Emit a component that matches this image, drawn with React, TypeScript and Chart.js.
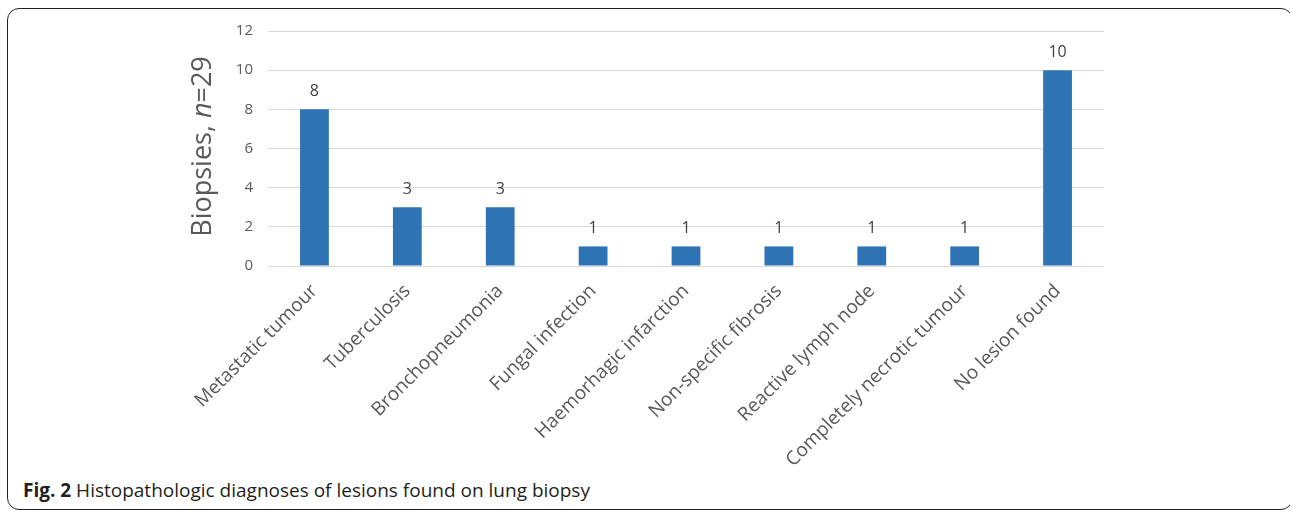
import React, { useEffect, useRef } from "react";
import { Chart, registerables } from "chart.js";

Chart.register(...registerables);

const categories = [
  "Metastatic tumour",
  "Tuberculosis",
  "Bronchopneumonia",
  "Fungal infection",
  "Haemorhagic infarction",
  "Non-specific fibrosis",
  "Reactive lymph node",
  "Completely necrotic tumour",
  "No lesion found",
];
const biopsies = [8, 3, 3, 1, 1, 1, 1, 1, 10];
const yMin = 0;
const yMax = 12;
const yStep = 2;

const FONT = "'Open Sans', 'Noto Sans', sans-serif";

const valueLabels = {
  id: "valueLabels",
  afterDatasetsDraw(chart: any) {
    const ctx = chart.ctx;
    const meta = chart.getDatasetMeta(0);
    ctx.save();
    ctx.font = `16px ${FONT}`;
    ctx.fillStyle = "#404040";
    ctx.textAlign = "center";
    ctx.textBaseline = "alphabetic";
    meta.data.forEach((bar: any, i: number) => {
      ctx.fillText(String(chart.data.datasets[0].data[i]), bar.x, bar.y - 13);
    });
    ctx.restore();
  },
};

const yTitle = {
  id: "yTitle",
  afterDraw(chart: any) {
    const ctx = chart.ctx;
    const area = chart.chartArea;
    const parts = [
      { t: "Biopsies, ", italic: false },
      { t: "n", italic: true },
      { t: "=29", italic: false },
    ];
    const size = 27;
    ctx.save();
    let total = 0;
    const widths = parts.map((p) => {
      ctx.font = `${p.italic ? "italic " : ""}${size}px ${FONT}`;
      const w = ctx.measureText(p.t).width;
      total += w;
      return w;
    });
    ctx.translate(211, (area.top + area.bottom) / 2 - 2);
    ctx.rotate(-Math.PI / 2);
    ctx.fillStyle = "#595959";
    ctx.textBaseline = "alphabetic";
    ctx.textAlign = "left";
    let x = -total / 2;
    parts.forEach((p, i) => {
      ctx.font = `${p.italic ? "italic " : ""}${size}px ${FONT}`;
      ctx.fillText(p.t, x, 0);
      x += widths[i];
    });
    ctx.restore();
  },
};

export default function App() {
  const ref = useRef<HTMLCanvasElement>(null);

  useEffect(() => {
    if (!ref.current) return;
    const chart = new Chart(ref.current, {
      type: "bar",
      data: {
        labels: categories,
        datasets: [
          {
            data: biopsies,
            backgroundColor: "#2e74b5",
            categoryPercentage: 1,
            barPercentage: 0.31,
          },
        ],
      },
      options: {
        animation: false,
        responsive: false,
        layout: { padding: { left: 0, top: 31, right: 186, bottom: 0 } },
        plugins: { legend: { display: false }, tooltip: { enabled: false } },
        scales: {
          x: {
            grid: { display: false },
            border: { display: false },
            ticks: {
              autoSkip: false,
              minRotation: 45,
              maxRotation: 45,
              padding: 6,
              color: "#595959",
              font: { family: FONT, size: 19 },
            },
            afterFit(s: any) {
              s.height = 204;
            },
          },
          y: {
            min: yMin,
            max: yMax,
            grid: { color: "#d9d9d9", lineWidth: 1, drawTicks: false },
            border: { display: false },
            ticks: {
              stepSize: yStep,
              padding: 15,
              color: "#595959",
              font: { family: FONT, size: 15 },
            },
            afterFit(s: any) {
              s.width = 268;
            },
          },
        },
      },
      plugins: [valueLabels, yTitle],
    });
    return () => chart.destroy();
  }, []);

  return (
    <div
      style={{
        position: "absolute",
        left: 0,
        top: 0,
        width: 1290,
        height: 511,
        background: "#fff",
        overflow: "hidden",
      }}
    >
      <div
        style={{
          position: "absolute",
          left: 7,
          top: 8,
          width: 1286,
          height: 502,
          border: "1.5px solid #231f20",
          borderRadius: 12,
          boxSizing: "border-box",
        }}
      />
      <canvas
        ref={ref}
        width={1290}
        height={470}
        style={{ position: "absolute", left: 0, top: 0, width: 1290, height: 470 }}
      />
      <div
        style={{
          position: "absolute",
          left: 23,
          top: 479,
          fontFamily: FONT,
          fontSize: 19,
          lineHeight: "22px",
          color: "#231f20",
          whiteSpace: "nowrap",
        }}
      >
        <b>Fig. 2</b> Histopathologic diagnoses of lesions found on lung biopsy
      </div>
    </div>
  );
}
